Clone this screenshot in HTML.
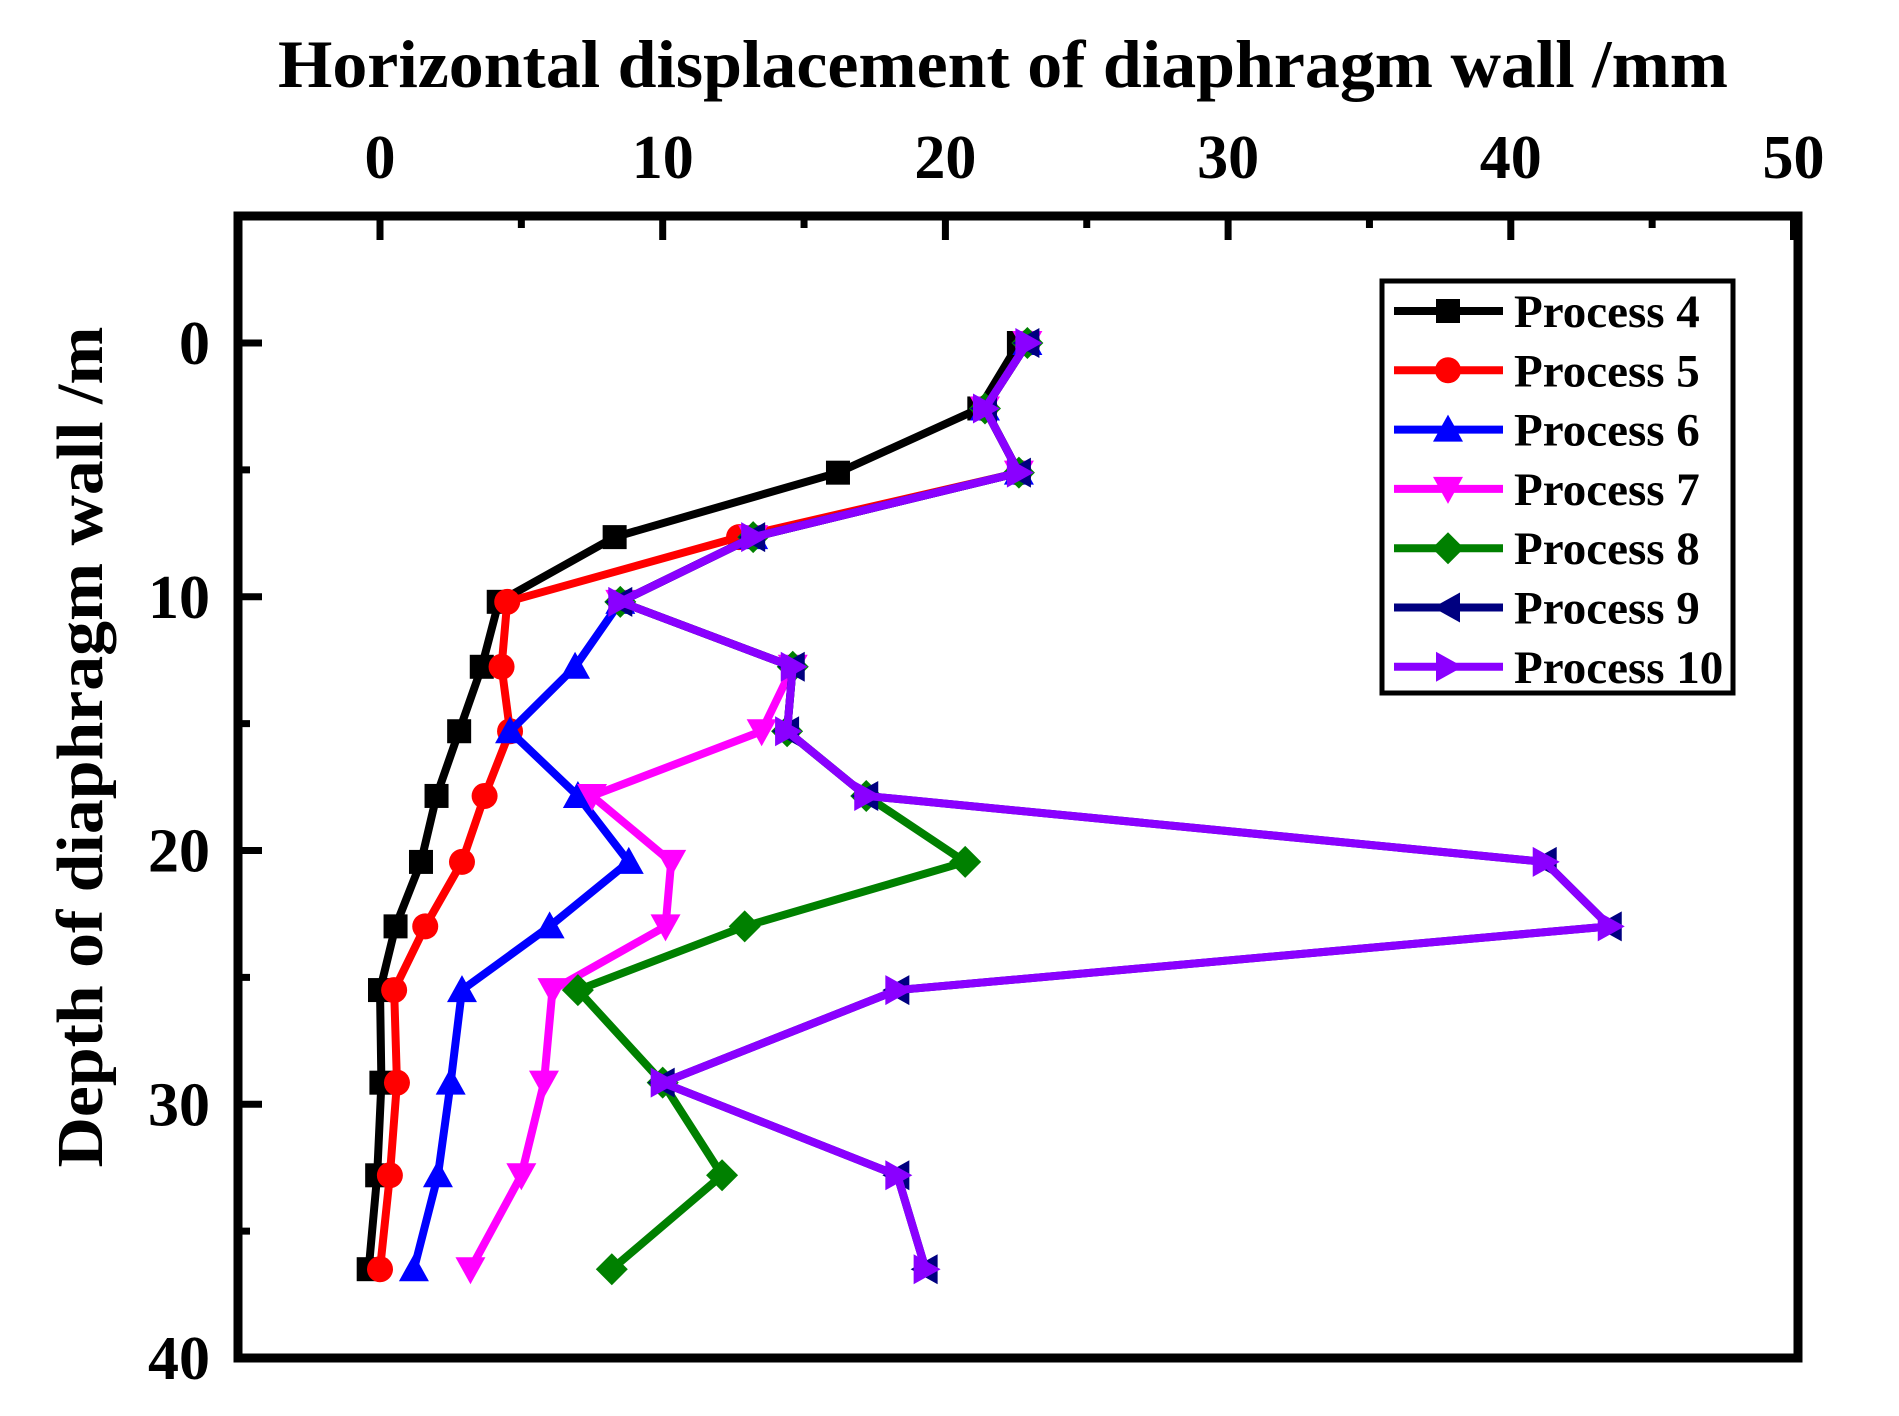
<!DOCTYPE html>
<html><head><meta charset="utf-8"><style>html,body{margin:0;padding:0;background:#fff}svg{display:block}</style></head>
<body>
<svg id="s" xmlns="http://www.w3.org/2000/svg" width="1899" height="1416" viewBox="0 0 1899 1416" font-family="Liberation Serif, serif" font-weight="bold">
<text x="1003" y="87" font-size="68" text-anchor="middle" textLength="1450" lengthAdjust="spacingAndGlyphs">Horizontal displacement of diaphragm wall /mm</text>
<text transform="translate(102,747) rotate(-90)" font-size="66" text-anchor="middle" textLength="841" lengthAdjust="spacingAndGlyphs">Depth of diaphragm wall /m</text>
<g id="g"></g>
</svg>
<script>
(function(){
const X=v=>380+v*28.27, Y=v=>343+v*25.375;
const ns="http://www.w3.org/2000/svg", g=document.getElementById('g');
function el(t,a,txt){const e=document.createElementNS(ns,t);for(const k in a)e.setAttribute(k,a[k]);if(txt!==undefined)e.textContent=txt;g.appendChild(e);return e;}
el('rect',{x:238,y:216,width:1560,height:1142,fill:'none',stroke:'#000','stroke-width':9});
for(let v=0;v<=50;v+=5){const x=X(v);el('line',{x1:x,y1:216,x2:x,y2:216+(v%10?12:24),stroke:'#000','stroke-width':7});
 if(v%10==0)el('text',{x:x,y:178,'font-size':62,'text-anchor':'middle'},String(v));}
for(let v=0;v<=40;v+=5){const y=Y(v);el('line',{x1:238,y1:y,x2:238+(v%10?12:24),y2:y,stroke:'#000','stroke-width':7});
 if(v%10==0)el('text',{x:210,y:y+21,'font-size':62,'text-anchor':'end'},String(v));}
const D=[0,2.58,5.11,7.65,10.2,12.76,15.3,17.85,20.45,22.99,25.5,29.15,32.8,36.5];
const S=[
['#000','sq',[22.6,21.2,16.2,8.3,4.2,3.6,2.8,2.0,1.45,0.55,0,0.05,-0.1,-0.4]],
['#ff0000','ci',[22.9,21.4,22.6,12.7,4.5,4.3,4.6,3.7,2.9,1.6,0.5,0.6,0.35,0]],
['#0000ff','tu',[22.9,21.4,22.6,13.2,8.5,6.9,4.6,7.0,8.8,6.0,2.9,2.5,2.05,1.2]],
['#ff00ff','td',[22.9,21.4,22.6,13.2,8.5,14.6,13.5,7.5,10.3,10.1,6.1,5.8,5.0,3.2]],
['#008000','di',[22.9,21.4,22.6,13.2,8.5,14.6,14.4,17.2,20.7,12.9,7.0,10.0,12.1,8.2]],
['#000080','tl',[22.9,21.4,22.6,13.2,8.5,14.6,14.4,17.2,41.2,43.5,18.3,10.0,18.3,19.3]],
['#8a00ff','tr',[22.9,21.4,22.6,13.2,8.5,14.6,14.4,17.2,41.2,43.5,18.3,10.0,18.3,19.3]]];
function mk(c,t,x,y){const r=12;
 if(t=='sq')el('rect',{x:x-r,y:y-r,width:2*r,height:2*r,fill:c});
 else if(t=='ci')el('circle',{cx:x,cy:y,r:r+1,fill:c});
 else{let p;
  if(t=='tu')p=[[0,-r-3],[r+3,r],[-r-3,r]];
  if(t=='td')p=[[0,r+3],[r+3,-r],[-r-3,-r]];
  if(t=='tl')p=[[-r-3,0],[r,-r-3],[r,r+3]];
  if(t=='tr')p=[[r+3,0],[-r,-r-3],[-r,r+3]];
  if(t=='di')p=[[0,-r-4],[r+4,0],[0,r+4],[-r-4,0]];
  el('polygon',{points:p.map(q=>(x+q[0])+','+(y+q[1])).join(' '),fill:c});}}
S.forEach(([c,t,xs])=>{
 el('polyline',{points:xs.map((v,i)=>X(v)+','+Y(D[i])).join(' '),fill:'none',stroke:c,'stroke-width':8,'stroke-linejoin':'round'});
 xs.forEach((v,i)=>mk(c,t,X(v),Y(D[i])));});
el('rect',{x:1382,y:281,width:351,height:412,fill:'#fff',stroke:'#000','stroke-width':5});
S.forEach(([c,t],i)=>{const y=311+i*59.3;
 el('line',{x1:1394,y1:y,x2:1503,y2:y,stroke:c,'stroke-width':8});mk(c,t,1448,y);
 el('text',{x:1514,y:y+16,'font-size':47},'Process '+(i+4));});
})();
</script>
</body></html>
